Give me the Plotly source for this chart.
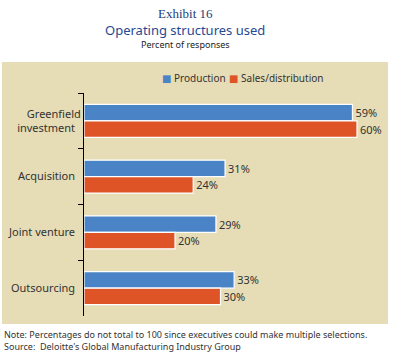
import plotly.graph_objects as go

categories = ["Greenfield<br>investment", "Acquisition", "Joint venture", "Outsourcing"]
production = [59, 31, 29, 33]
sales_distribution = [60, 24, 20, 30]

W, H = 396, 358
L, R, T, B = 84, 8, 93, 42
pw = W - L - R
ph = H - T - B
px_per_pct = 4.55
BLUE, RED = "#4A84C6", "#DE5427"

def py(y):
    return (H - B - y) / ph

def pxx(x):
    return (x - L) / pw

fig = go.Figure()
fig.add_trace(go.Bar(
    y=categories, x=production, orientation="h", name="Production",
    marker=dict(color=BLUE, line=dict(color="white", width=1.2)),
    texttemplate="%{x}%", textposition="outside",
    textfont=dict(size=11, color="#333333"), cliponaxis=False,
))
fig.add_trace(go.Bar(
    y=categories, x=sales_distribution, orientation="h", name="Sales/distribution",
    marker=dict(color=RED, line=dict(color="white", width=1.2)),
    texttemplate="%{x}%", textposition="outside",
    textfont=dict(size=11, color="#333333"), cliponaxis=False,
))

fig.update_layout(
    width=W, height=H,
    margin=dict(l=L, r=R, t=T, b=B, autoexpand=False),
    paper_bgcolor="white", plot_bgcolor="rgba(0,0,0,0)",
    font=dict(family="Noto Sans, DejaVu Sans, sans-serif", color="#333333"),
    barmode="group", bargap=0.41, bargroupgap=0.0,
    showlegend=False,
    xaxis=dict(range=[0, pw / px_per_pct], visible=False, fixedrange=True),
    yaxis=dict(autorange="reversed", showline=True, linecolor="black", linewidth=1,
               ticks="outside", ticklen=5, tickcolor="black", tickson="boundaries",
               tickfont=dict(size=11, color="#333333"), ticksuffix="  ", showgrid=False),
    shapes=[dict(type="rect", xref="paper", yref="paper", layer="below",
                 x0=pxx(2), x1=pxx(388), y0=py(324), y1=py(62),
                 fillcolor="#E6DCB5", line=dict(width=0))],
    annotations=[
        dict(text="Exhibit 16", xref="paper", yref="paper", x=pxx(185), y=py(13),
             showarrow=False, font=dict(family="Liberation Serif, serif", size=13, color="#24407A"),
             xanchor="center", yanchor="middle"),
        dict(text="Operating structures used", xref="paper", yref="paper", x=pxx(185), y=py(30),
             showarrow=False, font=dict(size=13, color="#1F4A94"), xanchor="center", yanchor="middle"),
        dict(text="Percent of responses", xref="paper", yref="paper", x=pxx(185), y=py(44),
             showarrow=False, font=dict(size=9, color="#222222"), xanchor="center", yanchor="middle"),
        dict(text=f"<span style='color:{BLUE}'>■</span> Production", xref="paper", yref="paper",
             x=pxx(160), y=py(78), showarrow=False, font=dict(size=10, color="#333333"),
             xanchor="left", yanchor="middle"),
        dict(text=f"<span style='color:{RED}'>■</span> Sales/distribution", xref="paper", yref="paper",
             x=pxx(227), y=py(78), showarrow=False, font=dict(size=10, color="#333333"),
             xanchor="left", yanchor="middle"),
        dict(text="Note: Percentages do not total to 100 since executives could make multiple selections.",
             xref="paper", yref="paper", x=pxx(2), y=py(334),
             showarrow=False, font=dict(size=9, color="#333333"), xanchor="left", yanchor="middle"),
        dict(text="Source:  Deloitte's Global Manufacturing Industry Group",
             xref="paper", yref="paper", x=pxx(2), y=py(346),
             showarrow=False, font=dict(size=9, color="#333333"), xanchor="left", yanchor="middle"),
    ],
)

fig.write_html("out.html", config={"displayModeBar": False},
               post_script="document.body.style.margin='0';document.body.style.padding='0';")
